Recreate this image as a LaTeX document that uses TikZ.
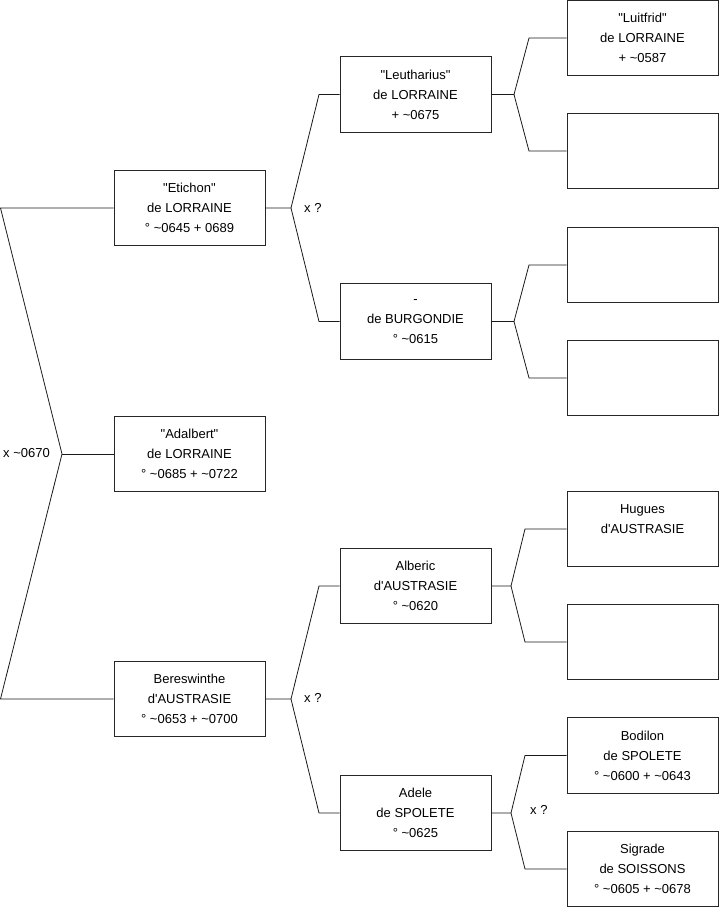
\documentclass[tikz,border=0pt]{standalone}
\usepackage{fontspec}
\setmainfont{Liberation Sans}[Ligatures=TeXOff]
\newcommand{\tl}{\textasciitilde}
\begin{document}
\begin{tikzpicture}[x=1pt,y=-1pt,
  box/.style={draw=black!85,line width=0.8pt,minimum width=151pt,minimum height=75.5pt,
    inner sep=0pt,align=center,font=\fontsize{13}{20}\selectfont},
  lbl/.style={anchor=west,inner sep=0pt,font=\fontsize{13}{20}\selectfont},
  conn/.style={draw=black!90,line width=0.8pt}]
\useasboundingbox (0,0) rectangle (719,908);
% level 1
\node[box] (etichon) at (189.5,208) {"Etichon"\\de LORRAINE\\° \tl0645 + 0689};
\node[box] (adalbert) at (189.5,454) {"Adalbert"\\de LORRAINE\\° \tl0685 + \tl0722};
\node[box] (beres) at (189.5,699) {Bereswinthe\\d'AUSTRASIE\\° \tl0653 + \tl0700};
% level 2
\node[box] (leuth) at (415.5,94.5) {"Leutharius"\\de LORRAINE\\+ \tl0675};
\node[box] (burg) at (415.5,321.5) {-\\de BURGONDIE\\° \tl0615};
\node[box] (alberic) at (415.5,586) {Alberic\\d'AUSTRASIE\\° \tl0620};
\node[box] (adele) at (415.5,813) {Adele\\de SPOLETE\\° \tl0625};
% level 3
\node[box] (luitfrid) at (642.5,38) {"Luitfrid"\\de LORRAINE\\+ \tl0587};
\node[box] (e1) at (642.5,151) {};
\node[box] (e2) at (642.5,265) {};
\node[box] (e3) at (642.5,378) {};
\node[box] (hugues) at (642.5,529) {Hugues\\d'AUSTRASIE\\~};
\node[box] (e4) at (642.5,642) {};
\node[box] (bodilon) at (642.5,755.5) {Bodilon\\de SPOLETE\\° \tl0600 + \tl0643};
\node[box] (sigrade) at (642.5,869) {Sigrade\\de SOISSONS\\° \tl0605 + \tl0678};
% root fork
\coordinate (r1) at (0.5,208);
\coordinate (r2) at (62,454);
\coordinate (r3) at (0.5,699);
\draw[conn] (etichon.west) -- (r1) -- (r2) -- (r3) -- (beres.west);
\draw[conn] (r2) -- (adalbert.west);
\node[lbl] (l0) at (3,453) {x \tl0670};
% fork Etichon
\coordinate (f1) at (291,208);
\coordinate (f1a) at (319,94.5);
\coordinate (f1b) at (319,321.5);
\draw[conn] (etichon.east) -- (f1) -- (f1a) -- (leuth.west);
\draw[conn] (f1) -- (f1b) -- (burg.west);
\node[lbl] (l1) at (304,208) {x ?};
% fork Bereswinthe
\coordinate (f2) at (291,699);
\coordinate (f2a) at (319,586);
\coordinate (f2b) at (319,813);
\draw[conn] (beres.east) -- (f2) -- (f2a) -- (alberic.west);
\draw[conn] (f2) -- (f2b) -- (adele.west);
\node[lbl] (l2) at (304,698) {x ?};
% fork Leutharius
\coordinate (g1) at (514,94.5);
\coordinate (g1a) at (529,38);
\coordinate (g1b) at (529,151);
\draw[conn] (leuth.east) -- (g1) -- (g1a) -- (luitfrid.west);
\draw[conn] (g1) -- (g1b) -- (e1.west);
% fork Burgondie
\coordinate (g2) at (514,321.5);
\coordinate (g2a) at (529,265);
\coordinate (g2b) at (529,378);
\draw[conn] (burg.east) -- (g2) -- (g2a) -- (e2.west);
\draw[conn] (g2) -- (g2b) -- (e3.west);
% fork Alberic
\coordinate (g3) at (511,586);
\coordinate (g3a) at (525,529);
\coordinate (g3b) at (525,642);
\draw[conn] (alberic.east) -- (g3) -- (g3a) -- (hugues.west);
\draw[conn] (g3) -- (g3b) -- (e4.west);
% fork Adele
\coordinate (g4) at (511,813);
\coordinate (g4a) at (525,755.5);
\coordinate (g4b) at (525,869);
\draw[conn] (adele.east) -- (g4) -- (g4a) -- (bodilon.west);
\draw[conn] (g4) -- (g4b) -- (sigrade.west);
\node[lbl] (l3) at (530,810) {x ?};
\end{tikzpicture}
\end{document}
